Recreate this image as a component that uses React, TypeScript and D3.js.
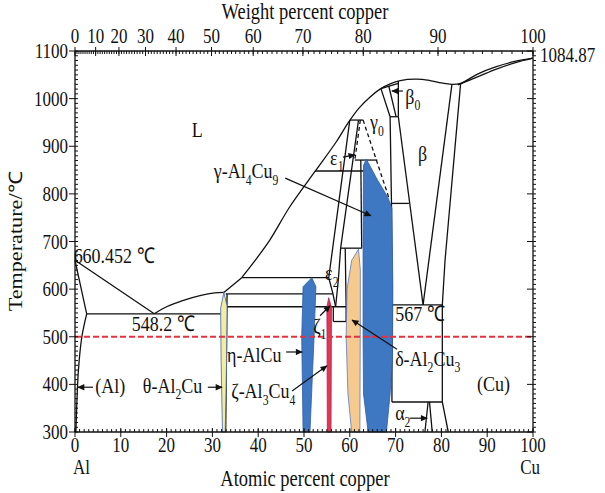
import React from "react";
import * as d3 from "d3";

type P = [number, number];

// ---------- axis data ----------
const atomicTicks = d3.range(0, 101, 10);
const atomicMinor = d3.range(0, 101, 1);
const tempTicks = d3.range(300, 1101, 100);
const tempMinor = d3.range(300, 1101, 10);
const weightTicks = [0, 10, 20, 30, 40, 50, 60, 70, 80, 90, 100];
const weightMinor = d3.range(0, 101, 1);
const cuMelt = 1084.87;
const refTemp = 500;

// ---------- phase boundaries (at.% Cu, °C) ----------
const liqAl: P[] = [[0, 660.452], [17.3, 548.2]];
const solidusAl: P[] = [[0, 660.452], [2.55, 548.2]];
const solvusAl: P[] = [[2.55, 548.2], [1.5, 500], [0.75, 430], [0.2, 300]];
const eutectic548: P[] = [[2.55, 548.2], [31.8, 548.2]];
const liqTheta: P[] = [[17.3, 548.2], [20, 563], [23.5, 576], [27.5, 587], [30.5, 592], [32.5, 593]];
const liqThetaUp: P[] = [[32.5, 593], [36.4, 624]];
const liqMain: P[] = [[36.4, 624], [39, 656], [42.6, 704], [46.9, 773], [52.4, 847], [57.1, 910], [59.7, 950], [62, 980], [64.5, 1004], [66.6, 1020], [68.8, 1031], [71, 1038], [74.6, 1041], [77.5, 1038], [80, 1033], [82.3, 1030]];
const liqCu: P[] = [[82.3, 1030], [84.2, 1032], [88, 1052], [92, 1067], [96, 1078], [100, cuMelt]];
const solCu: P[] = [[83.6, 1029], [88, 1046], [92, 1062], [96, 1075], [100, cuMelt]];
const cuSolvus: P[] = [[84.2, 1032], [80.8, 661], [80.2, 567], [80.2, 363], [81.5, 300]];
const betaRight: P[] = [[82.3, 1030], [76.0, 567]];
const betaLeft: P[] = [[70.6, 962], [76.0, 567]];
const h567: P[] = [[69.2, 567], [80.2, 567]];
const h363: P[] = [[69.2, 363], [80.2, 363]];
const alpha2L: P[] = [[77.1, 363], [76.4, 300]];
const alpha2R: P[] = [[77.4, 363], [78.0, 300]];
const gammaRight: P[] = [[66.8, 1021], [68.8, 962], [69.1, 780], [69.2, 567], [69.2, 363]];
const beta0L: P[] = [[68.5, 1027], [70.1, 962]];
const beta0R: P[] = [[70.6, 1037], [70.6, 962]];
const solTop: P[] = [[66.8, 1021], [70.6, 1032]];
const h962: P[] = [[68.8, 962], [70.6, 962]];
const h780: P[] = [[69.1, 780], [72.9, 780]];
const dashL: P[] = [[62.3, 955], [61.1, 871]];
const dashR: P[] = [[62.9, 955], [68.6, 790]];
const h955: P[] = [[60.0, 955], [62.9, 955]];
const h871: P[] = [[61.1, 871], [66.0, 871]];
const h848: P[] = [[52.4, 848], [63.3, 848]];
const v626: P[] = [[62.4, 871], [62.6, 686]];
const epsLeft: P[] = [[60.0, 955], [55.4, 624], [56.3, 591], [56.9, 563]];
const epsRight: P[] = [[61.9, 955], [58.0, 686], [57.5, 620], [56.9, 563]];
const h686: P[] = [[58.0, 686], [62.6, 686]];
const deltaLine: P[] = [[59.0, 686], [59.2, 563], [59.2, 532]];
const h624: P[] = [[36.4, 624], [55.4, 624]];
const h590: P[] = [[32.9, 590], [56.3, 590]];
const h563: P[] = [[33.2, 563], [59.2, 563]];
const h532: P[] = [[56.4, 532], [59.2, 532]];
const v564: P[] = [[56.4, 563], [56.4, 532]];
const thetaLine: P[] = [[33.2, 590], [32.9, 300]];

// ---------- single-phase intermetallic fields ----------
const thetaField: P[] = [[32.5, 593], [33.2, 565], [33.1, 450], [32.8, 300], [32.2, 300], [31.9, 450], [31.8, 560]];
const etaField: P[] = [[51.7, 624], [52.6, 605], [52.2, 500], [51.3, 300], [49.8, 300], [49.5, 500], [49.8, 605]];
const zetaField: P[] = [[55.4, 582], [56.0, 562], [55.9, 300], [55.1, 300], [55.0, 562]];
const deltaField: P[] = [[61.9, 684], [62.3, 640], [62.3, 550], [62.2, 300], [60.4, 300], [59.6, 380], [59.2, 500], [59.4, 600], [60.4, 660]];
const gammaField: P[] = [[63.6, 873], [66.0, 830], [68.3, 793], [69.2, 770], [69.4, 600], [69.3, 450], [68.8, 380], [68.0, 300], [64.0, 300], [63.0, 380], [62.9, 500], [62.9, 700], [63.0, 860]];

const FONT = "'Liberation Serif','Times New Roman',serif";
const SY = 1.2; // vertical glyph stretch of the reference

const at = (w: number) => {
  if (w >= 100) return 100;
  const c = w / 63.546, a = (100 - w) / 26.982;
  return (100 * c) / (c + a);
};

function Txt({ x, y, s, size, anchor = "start" }: { x: number; y: number; s: string; size: number; anchor?: string }) {
  const tokens = s.split(/(_[^_])/).filter((t) => t.length > 0);
  let prevSub = false;
  const sh = size * 0.3;
  return (
    <text transform={`translate(${x},${y}) scale(1,${SY})`} fontSize={size} fontFamily={FONT} textAnchor={anchor as any} fill="#111">
      {tokens.map((tk, i) => {
        if (tk.startsWith("_")) {
          const el = (
            <tspan key={i} dy={prevSub ? 0 : sh} fontSize={size * 0.65}>
              {tk.slice(1)}
            </tspan>
          );
          prevSub = true;
          return el;
        }
        const el = (
          <tspan key={i} dy={prevSub ? -sh : 0}>
            {tk}
          </tspan>
        );
        prevSub = false;
        return el;
      })}
    </text>
  );
}

export default function App() {
  const x = d3.scaleLinear().domain([0, 100]).range([75, 533]);
  const y = d3.scaleLinear().domain([300, 1100]).range([432, 51]);
  const lin = d3.line<P>().x((d) => x(d[0])).y((d) => y(d[1]));
  const cur = d3.line<P>().x((d) => x(d[0])).y((d) => y(d[1])).curve(d3.curveCatmullRom.alpha(0.5));
  const closed = d3.line<P>().x((d) => x(d[0])).y((d) => y(d[1])).curve(d3.curveLinearClosed);

  const straight = [liqAl, solidusAl, eutectic548, liqThetaUp, cuSolvus, betaRight, betaLeft, h567, h363, alpha2L, alpha2R,
    gammaRight, beta0L, beta0R, solTop, h962, h780, h955, h871, h848, v626, epsLeft, epsRight, h686, deltaLine,
    h624, h590, h563, h532, v564, thetaLine];
  const curved = [solvusAl, liqTheta, liqMain, liqCu, solCu];
  const dashed = [dashL, dashR];

  const fields = [
    { pts: thetaField, fill: "#f3ee9e", stroke: "#3d62b5" },
    { pts: etaField, fill: "#3e77c2", stroke: "#2d5ca8" },
    { pts: zetaField, fill: "#e8344e", stroke: "#9b2a6a" },
    { pts: deltaField, fill: "#f6c98f", stroke: "#5a78c0" },
    { pts: gammaField, fill: "#3e77c2", stroke: "#2d5ca8" },
  ];

  const labels: { a: number; t: number; s: string; size?: number }[] = [
    { a: 25.5, t: 919, s: "L", size: 18 },
    { a: -0.3, t: 655, s: "660.452 ℃" },
    { a: 12.4, t: 512, s: "548.2 ℃" },
    { a: 69.9, t: 533, s: "567 ℃" },
    { a: 4.4, t: 382, s: "(Al)" },
    { a: 14.8, t: 382, s: "θ-Al_2Cu" },
    { a: 33.2, t: 447, s: "η-AlCu" },
    { a: 34.1, t: 371, s: "ζ-Al_3Cu_4" },
    { a: 52.0, t: 508, s: "ζ_1" },
    { a: 54.6, t: 619, s: "ε_2" },
    { a: 55.7, t: 861, s: "ε_1" },
    { a: 64.4, t: 936, s: "γ_0" },
    { a: 72.1, t: 989, s: "β_0" },
    { a: 74.9, t: 869, s: "β" },
    { a: 30.3, t: 833, s: "γ-Al_4Cu_9" },
    { a: 69.9, t: 439, s: "δ-Al_2Cu_3" },
    { a: 87.8, t: 386, s: "(Cu)" },
    { a: 69.9, t: 325, s: "α_2" },
  ];

  const arrows: [P, P][] = [
    [[3.93, 394], [0.66, 394]],
    [[29.0, 394], [32.1, 394]],
    [[46.1, 468], [49.6, 468]],
    [[47.4, 386], [55.0, 439]],
    [[53.5, 544], [55.7, 565]],
    [[58.5, 877], [61.1, 882]],
    [[71.6, 1016], [69.2, 1016]],
    [[45.9, 833], [64.6, 754]],
    [[70.3, 474], [60.5, 535]],
    [[73.1, 329], [76.9, 329]],
  ];

  const x0 = x(0), x1 = x(100), yb = y(300), yt = y(1100);

  return (
    <svg width={605} height={493} style={{ position: "absolute", left: 0, top: 0, background: "#fff" }}>
      <defs>
        <marker id="ah" viewBox="0 0 10 10" refX="9" refY="5" markerWidth="8" markerHeight="7" markerUnits="userSpaceOnUse" orient="auto">
          <path d="M0,0.5 L10,5 L0,9.5 z" fill="#111" />
        </marker>
      </defs>

      {/* phase boundaries */}
      <g fill="none" stroke="#111" strokeWidth={1.3}>
        {straight.map((p, i) => <path key={"s" + i} d={lin(p) || ""} />)}
        {curved.map((p, i) => <path key={"c" + i} d={cur(p) || ""} />)}
        {dashed.map((p, i) => <path key={"d" + i} d={lin(p) || ""} strokeDasharray="4,3" />)}
      </g>

      {/* single-phase fields */}
      {fields.map((f, i) => (
        <path key={"f" + i} d={closed(f.pts) || ""} fill={f.fill} stroke={f.stroke} strokeWidth={0.8} />
      ))}

      {/* reference temperature */}
      <line x1={x(0)} x2={x(100)} y1={y(refTemp)} y2={y(refTemp)} stroke="#e8303f" strokeWidth={2} strokeDasharray="6,3" />

      {/* axes frame */}
      <g stroke="#111" strokeWidth={1.3}>
        <line x1={x0} x2={x1} y1={yb} y2={yb} />
        <line x1={x0} x2={x1} y1={yt} y2={yt} />
        <line x1={x0} x2={x0} y1={yt} y2={yb} />
        <line x1={x1} x2={x1} y1={yt} y2={yb} />
      </g>
      <g stroke="#111" strokeWidth={1}>
        {tempMinor.map((t) => (
          <g key={"tm" + t}>
            <line x1={x0} x2={x0 + 3} y1={y(t)} y2={y(t)} />
            <line x1={x1} x2={x1 + 3} y1={y(t)} y2={y(t)} />
          </g>
        ))}
        {tempTicks.map((t) => (
          <g key={"tM" + t}>
            <line x1={x0 - 6} x2={x0} y1={y(t)} y2={y(t)} />
            <line x1={x1 - 6} x2={x1} y1={y(t)} y2={y(t)} />
          </g>
        ))}
        {atomicMinor.map((a) => <line key={"am" + a} x1={x(a)} x2={x(a)} y1={yb} y2={yb - 3} />)}
        {atomicTicks.map((a) => <line key={"aM" + a} x1={x(a)} x2={x(a)} y1={yb - 4} y2={yb + 5} />)}
        {weightMinor.map((w) => <line key={"wm" + w} x1={x(at(w))} x2={x(at(w))} y1={yt} y2={yt + 3} />)}
        {weightTicks.map((w) => <line key={"wM" + w} x1={x(at(w))} x2={x(at(w))} y1={yt - 4} y2={yt + 5} />)}
      </g>

      {/* tick labels */}
      {tempTicks.map((t) => (
        <Txt key={"tl" + t} x={x0 - 7} y={y(t) + 7} s={String(t)} size={17} anchor="end" />
      ))}
      {atomicTicks.map((a) => (
        <Txt key={"al" + a} x={x(a)} y={yb + 20} s={String(a)} size={17} anchor="middle" />
      ))}
      {weightTicks.map((w) => (
        <Txt key={"wl" + w} x={x(at(w))} y={yt - 8} s={String(w)} size={17} anchor="middle" />
      ))}
      <Txt x={x1 + 7} y={yt + 11} s={String(cuMelt)} size={17} />
      <Txt x={x0 - 2} y={yb + 42} s="Al" size={17} />
      <Txt x={x1 + 7} y={yb + 42} s="Cu" size={17} anchor="end" />

      {/* titles */}
      <Txt x={(x0 + x1) / 2 + 1} y={486} s="Atomic percent copper" size={18.5} anchor="middle" />
      <Txt x={(x0 + x1) / 2 + 1} y={19} s="Weight percent copper" size={18.5} anchor="middle" />
      <text transform={`translate(22,${(yt + yb) / 2}) rotate(-90) scale(${SY},1)`} fontSize={18.5} fontFamily={FONT} textAnchor="middle" fill="#111">Temperature/℃</text>

      {/* annotations */}
      {labels.map((l, i) => (
        <Txt key={"lb" + i} x={x(l.a)} y={y(l.t)} s={l.s} size={l.size || 18} />
      ))}
      <g stroke="#111" strokeWidth={1.2}>
        {arrows.map((ar, i) => (
          <line key={"ar" + i} x1={x(ar[0][0])} y1={y(ar[0][1])} x2={x(ar[1][0])} y2={y(ar[1][1])} markerEnd="url(#ah)" />
        ))}
      </g>
    </svg>
  );
}
